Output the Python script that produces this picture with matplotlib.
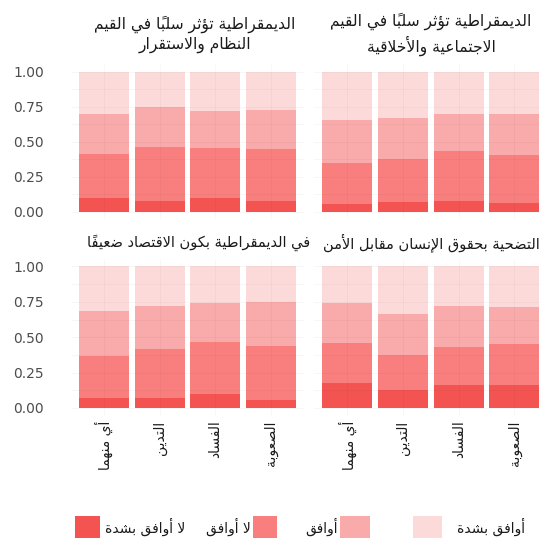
import unicodedata

import matplotlib
matplotlib.use('Agg')
import matplotlib.pyplot as plt
from matplotlib.patches import Rectangle

# Shares per panel (rows) and bar (columns), bottom to top of each stack
strong_disagree = [[0.098, 0.078, 0.098, 0.078],
                   [0.057, 0.073, 0.078, 0.066],
                   [0.068, 0.068, 0.097, 0.059],
                   [0.175, 0.127, 0.163, 0.163]]
disagree = [[0.312, 0.387, 0.355, 0.368],
            [0.293, 0.302, 0.356, 0.340],
            [0.302, 0.347, 0.367, 0.381],
            [0.282, 0.248, 0.270, 0.287]]
agree = [[0.290, 0.285, 0.267, 0.280],
         [0.305, 0.295, 0.266, 0.294],
         [0.315, 0.305, 0.280, 0.311],
         [0.283, 0.290, 0.287, 0.266]]
strong_agree = [[0.300, 0.250, 0.280, 0.274],
                [0.345, 0.330, 0.300, 0.300],
                [0.315, 0.280, 0.256, 0.249],
                [0.260, 0.335, 0.280, 0.284]]

panel_titles = ['الديمقراطية تؤثر سلباً في القيم\nالنظام والاستقرار',
                'الديمقراطية تؤثر سلباً في القيم\nالاجتماعية والأخلاقية',
                'في الديمقراطية بكون الاقتصاد ضعيفاً',
                'التضحية بحقوق الإنسان مقابل الأمن']
categories = ['أي منهما', 'التدين', 'الفساد', 'الصعوبة']
levels = ['لا أوافق بشدة', 'لا أوافق', 'أوافق', 'أوافق بشدة']
colors = ['#f35451', '#f87f7d', '#f9abab', '#fcdada']
yticks = [0.0, 0.25, 0.5, 0.75, 1.0]

# Arabic presentation forms: base letter -> isolated form code
DUAL = {0x0626: 0xFE89, 0x0628: 0xFE8F, 0x062A: 0xFE95, 0x062B: 0xFE99,
        0x062C: 0xFE9D, 0x062D: 0xFEA1, 0x062E: 0xFEA5, 0x0633: 0xFEB1,
        0x0634: 0xFEB5, 0x0635: 0xFEB9, 0x0636: 0xFEBD, 0x0637: 0xFEC1,
        0x0638: 0xFEC5, 0x0639: 0xFEC9, 0x063A: 0xFECD, 0x0641: 0xFED1,
        0x0642: 0xFED5, 0x0643: 0xFED9, 0x0644: 0xFEDD, 0x0645: 0xFEE1,
        0x0646: 0xFEE5, 0x0647: 0xFEE9, 0x064A: 0xFEF1}
RIGHT = {0x0622: 0xFE81, 0x0623: 0xFE83, 0x0624: 0xFE85, 0x0625: 0xFE87,
         0x0627: 0xFE8D, 0x0629: 0xFE93, 0x062F: 0xFEA9, 0x0630: 0xFEAB,
         0x0631: 0xFEAD, 0x0632: 0xFEAF, 0x0648: 0xFEED, 0x0649: 0xFEEF}
LAM_ALEF = {0x0622: 0xFEF5, 0x0623: 0xFEF7, 0x0625: 0xFEF9, 0x0627: 0xFEFB}


def join_type(base):
    if len(base) > 1:  # lam-alef ligature
        return 'R'
    c = ord(base)
    if c in DUAL:
        return 'D'
    if c in RIGHT:
        return 'R'
    return 'U'


def shape_line(line):
    """Contextual forms + visual (left to right) order for one line"""
    clusters = []
    for ch in line:
        if unicodedata.category(ch) == 'Mn' and clusters:
            clusters[-1][1].append(ch)
        else:
            clusters.append([ch, []])
    merged = []
    i = 0
    while i < len(clusters):
        base, marks = clusters[i]
        if (base == 'ل' and i + 1 < len(clusters)
                and ord(clusters[i + 1][0]) in LAM_ALEF):
            merged.append(['ل' + clusters[i + 1][0], marks + clusters[i + 1][1]])
            i += 2
        else:
            merged.append([base, marks])
            i += 1
    out = []
    for k, (base, marks) in enumerate(merged):
        t = join_type(base)
        prev_t = join_type(merged[k - 1][0]) if k > 0 else 'U'
        next_t = join_type(merged[k + 1][0]) if k + 1 < len(merged) else 'U'
        to_prev = t in ('D', 'R') and prev_t == 'D'
        to_next = t == 'D' and next_t in ('D', 'R')
        if len(base) > 1:
            glyph = chr(LAM_ALEF[ord(base[1])] + (1 if to_prev else 0))
        elif t == 'D':
            offset = 3 if (to_prev and to_next) else 1 if to_prev else 2 if to_next else 0
            glyph = chr(DUAL[ord(base)] + offset)
        elif t == 'R':
            glyph = chr(RIGHT[ord(base)] + (1 if to_prev else 0))
        else:
            glyph = base
        out.append(glyph + ''.join(marks))
    return ''.join(reversed(out))


def ar(text):
    return '\n'.join(shape_line(l) for l in text.split('\n'))


W, H = 539, 549
plt.rcParams['font.family'] = ['DejaVu Sans']
fig = plt.figure(figsize=(W / 100, H / 100), dpi=100)


def fx(px):
    return px / W


def fy(py):
    return 1 - py / H


# panel rectangles in pixels: left, top, right, bottom
panels = [(70.6, 64.5, 304.4, 219.0),
          (314.0, 64.5, 547.8, 219.0),
          (70.6, 259.4, 304.4, 415.0),
          (314.0, 259.4, 547.8, 415.0)]
title_pos = [(195, 34), (431, 34), (199, 243), (431, 243)]
title_size = [11.2, 11.2, 10.5, 10.5]

x = [1, 2, 3, 4]
for p, (l, t, r, b) in enumerate(panels):
    ax = fig.add_axes([fx(l), fy(b), fx(r) - fx(l), fy(t) - fy(b)])
    bottom = [0.0] * 4
    for series, color in zip([strong_disagree, disagree, agree, strong_agree], colors):
        ax.bar(x, series[p], width=0.9, bottom=bottom, color=color,
               linewidth=0, zorder=1)
        bottom = [b0 + v for b0, v in zip(bottom, series[p])]
    ax.set_xlim(0.4, 4.6)
    ax.set_ylim(-0.05, 1.05)
    ax.set_yticks(yticks)
    ax.set_yticks([0.125, 0.375, 0.625, 0.875], minor=True)
    ax.set_xticks(x)
    ax.grid(True, which='both', color='black', alpha=0.04, linewidth=0.6, zorder=2)
    ax.set_axisbelow(False)
    for s in ax.spines.values():
        s.set_visible(False)
    ax.tick_params(which='both', length=0)
    if p % 2 == 0:
        ax.set_yticklabels(['%.2f' % v for v in yticks], fontsize=10,
                           color='#4d4d4d')
        ax.tick_params(axis='y', pad=19)
    else:
        ax.set_yticklabels([])
    if p >= 2:
        ax.set_xticklabels([ar(c) for c in categories], rotation=90,
                           fontsize=10, color='#1a1a1a', va='top', ha='center')
        ax.tick_params(axis='x', pad=4)
    else:
        ax.set_xticklabels([])
    tx, ty = title_pos[p]
    fig.text(fx(tx), fy(ty), ar(panel_titles[p]), ha='center', va='center',
             fontsize=title_size[p], color='#1a1a1a', linespacing=1.35)

# legend row along the bottom
swatches = [(75, 100), (253, 277), (340, 370), (413, 442)]
labels_at = [(105, 'left'), (251, 'right'), (338, 'right'), (457, 'left')]
for (x0, x1), (lx, ha), color, text in zip(swatches, labels_at, colors, levels):
    fig.patches.append(Rectangle((fx(x0), fy(538)), fx(x1) - fx(x0),
                                 fy(516) - fy(538), transform=fig.transFigure,
                                 color=color, linewidth=0))
    fig.text(fx(lx), fy(527), ar(text), ha=ha, va='center', fontsize=10,
             color='#1a1a1a')

fig.savefig('out.png', dpi=100)
